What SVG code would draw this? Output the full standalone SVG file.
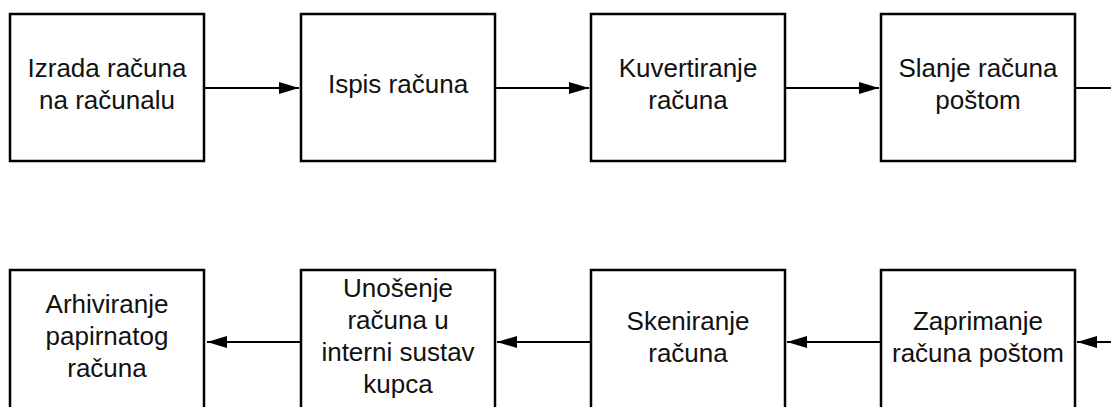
<svg xmlns="http://www.w3.org/2000/svg" width="1111" height="407" viewBox="0 0 1111 407">
<style>
.box{fill:#fff;stroke:#000;stroke-width:2.5}
.t{font-family:"Liberation Sans",Arial,sans-serif;font-size:26px;fill:#111;text-anchor:middle}
.c{stroke:#000;stroke-width:2;fill:none;marker-end:url(#ah)}
</style>
<defs>
<marker id="ah" markerWidth="20" markerHeight="12" refX="20" refY="6" orient="auto" markerUnits="userSpaceOnUse">
<path d="M0,0 L20,6 L0,12 Z" fill="#000"/>
</marker>
</defs>
<rect width="1111" height="407" fill="#fff"/>
<g id="connectors">
<line class="c" x1="205" y1="88" x2="299" y2="88"/>
<line class="c" x1="495" y1="88" x2="589" y2="88"/>
<line class="c" x1="785" y1="88" x2="879" y2="88"/>
<line class="c" x1="1076" y1="88" x2="1111" y2="88" style="marker-end:none"/>
<line class="c" x1="1111" y1="342" x2="1077" y2="342"/>
<line class="c" x1="881" y1="342" x2="787" y2="342"/>
<line class="c" x1="591" y1="342" x2="497" y2="342"/>
<line class="c" x1="301" y1="342" x2="207" y2="342"/>
</g>
<g id="n1"><rect class="box" x="10" y="14" width="194" height="147"/><text class="t" x="107" y="77">Izrada računa</text><text class="t" x="107" y="109">na računalu</text></g>
<g id="n2"><rect class="box" x="301" y="14" width="194" height="147"/><text class="t" x="398" y="93">Ispis računa</text></g>
<g id="n3"><rect class="box" x="591" y="14" width="194" height="147"/><text class="t" x="688" y="77">Kuvertiranje</text><text class="t" x="688" y="109">računa</text></g>
<g id="n4"><rect class="box" x="881" y="14" width="194" height="147"/><text class="t" x="978" y="77">Slanje računa</text><text class="t" x="978" y="109">poštom</text></g>
<g id="n5"><rect class="box" x="881" y="270" width="194" height="147"/><text class="t" x="978" y="330">Zaprimanje</text><text class="t" x="978" y="362">računa poštom</text></g>
<g id="n6"><rect class="box" x="591" y="270" width="194" height="147"/><text class="t" x="688" y="330">Skeniranje</text><text class="t" x="688" y="362">računa</text></g>
<g id="n7"><rect class="box" x="301" y="270" width="194" height="147"/><text class="t" x="398" y="297">Unošenje</text><text class="t" x="398" y="329">računa u</text><text class="t" x="398" y="361">interni sustav</text><text class="t" x="398" y="393">kupca</text></g>
<g id="n8"><rect class="box" x="10" y="270" width="194" height="147"/><text class="t" x="107" y="313">Arhiviranje</text><text class="t" x="107" y="345">papirnatog</text><text class="t" x="107" y="377">računa</text></g>
</svg>
